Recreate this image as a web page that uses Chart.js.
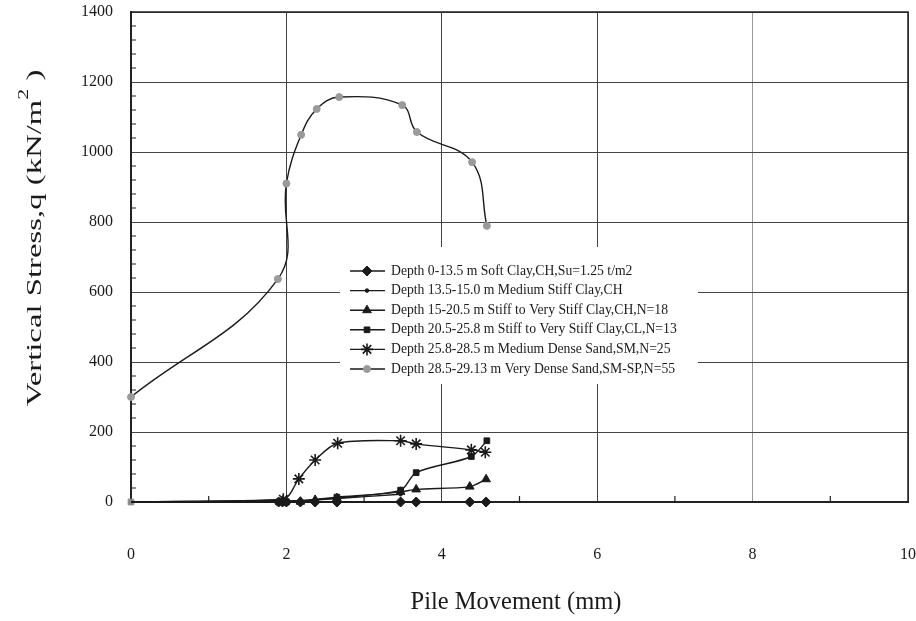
<!DOCTYPE html>
<html lang="en">
<head>
  <meta charset="UTF-8" />
  <title>Vertical Stress vs Pile Movement</title>
  <style>
    body {
      margin: 0;
      background: #ffffff;
    }
    canvas {
      display: block;
    }
  </style>
</head>
<body>
  <canvas id="chart" width="916" height="621"></canvas>

  <script src="https://cdn.jsdelivr.net/npm/chart.js"></script>
  <script>
    // layer data: pile movement (mm) vs vertical stress (kN/m2)
    const labels = [
      'Depth 0-13.5 m Soft Clay,CH,Su=1.25 t/m2',
      'Depth 13.5-15.0 m Medium Stiff Clay,CH',
      'Depth 15-20.5 m Stiff to Very Stiff Clay,CH,N=18',
      'Depth 20.5-25.8 m Stiff to Very Stiff Clay,CL,N=13',
      'Depth 25.8-28.5 m Medium Dense Sand,SM,N=25',
      'Depth 28.5-29.13 m Very Dense Sand,SM-SP,N=55'
    ];

    const softClayX = [0, 1.9, 1.95, 2.0, 2.18, 2.37, 2.65, 3.47, 3.67, 4.36, 4.57];
    const softClayY = [0, 0, 0, 0, 0, 0, 0, 0, 0, 0, 0];

    const medClayX = [0, 1.9, 2.0, 2.18, 2.37, 2.65, 3.47];
    const medClayY = [0, 2, 3, 4, 6, 10, 22];

    const stiffChX = [0, 1.95, 2.18, 2.37, 2.65, 3.47, 3.67, 4.36, 4.57];
    const stiffChY = [0, 4, 1, 6, 11, 29, 36, 44, 65];

    const stiffClX = [0, 1.9, 1.95, 2.0, 2.65, 3.47, 3.67, 4.38, 4.58];
    const stiffClY = [0, 0, 0, 0, 14, 34, 84, 130, 175];

    const medSandX = [0, 1.96, 2.16, 2.37, 2.66, 3.47, 3.67, 4.38, 4.56];
    const medSandY = [0, 8, 66, 120, 168, 175, 166, 149, 142];

    const denseSandX = [0, 1.89, 2.0, 2.19, 2.39, 2.68, 3.49, 3.68, 4.39, 4.58];
    const denseSandY = [300, 637, 910, 1049, 1123, 1157, 1134, 1057, 971, 789];

    const xTicks = [0, 2, 4, 6, 8, 10];
    const yTicks = [0, 200, 400, 600, 800, 1000, 1200, 1400];

    const serif = '"Liberation Serif", "DejaVu Serif", serif';
    const ink = '#1a1a1a';

    function pts(xs, ys) {
      return xs.map((x, i) => ({ x: x, y: ys[i] }));
    }

    // the shared origin point is only marked once, as a grey square
    function series(label, xs, ys, style, radius, fill, tension) {
      return {
        label: label,
        data: pts(xs, ys),
        borderColor: ink,
        borderWidth: 1.4,
        pointStyle: style,
        pointRadius: c => (c.dataIndex === 0 && ys[0] === 0 && style !== 'rect') ? 0 : radius,
        pointBackgroundColor: c => (c.dataIndex === 0 && ys[0] === 0) ? '#8a8a8a' : fill,
        pointBorderColor: c => (c.dataIndex === 0 && ys[0] === 0) ? '#8a8a8a' : fill,
        pointBorderWidth: style === 'star' ? 1.6 : 1,
        legendRadius: radius,
        legendFill: fill,
        tension: tension,
        clip: false
      };
    }

    const datasets = [
      series(labels[0], softClayX, softClayY, 'rectRot', 5, ink, 0.3),
      series(labels[1], medClayX, medClayY, 'circle', 1.8, ink, 0.3),
      series(labels[2], stiffChX, stiffChY, 'triangle', 5, ink, 0.3),
      series(labels[3], stiffClX, stiffClY, 'rect', 4, ink, 0.3),
      series(labels[4], medSandX, medSandY, 'star', 6, ink, 0.3),
      series(labels[5], denseSandX, denseSandY, 'circle', 3.5, '#9a9a9a', 0.4)
    ];

    // legend box sits inside the plot area and hides the grid behind it
    const legendBox = { x: 340, y: 247, w: 358, h: 137 };

    const decorations = {
      id: 'decorations',
      beforeDatasetsDraw(chart) {
        const ctx = chart.ctx;
        const a = chart.chartArea;
        const xs = chart.scales.x;
        const ys = chart.scales.y;
        ctx.save();
        // top and right frame
        ctx.strokeStyle = '#222';
        ctx.lineWidth = 1.5;
        ctx.beginPath();
        ctx.moveTo(a.left, a.top);
        ctx.lineTo(a.right, a.top);
        ctx.lineTo(a.right, a.bottom);
        ctx.stroke();
        // minor ticks pointing into the plot
        ctx.lineWidth = 1.2;
        ctx.beginPath();
        for (let v = 40; v < 1400; v += 40) {
          if (v % 200 === 0) continue;
          const py = ys.getPixelForValue(v);
          ctx.moveTo(a.left, py);
          ctx.lineTo(a.left + 5, py);
        }
        for (let v = 1; v < 10; v += 2) {
          const px = xs.getPixelForValue(v);
          ctx.moveTo(px, a.bottom);
          ctx.lineTo(px, a.bottom - 6);
        }
        ctx.stroke();
        ctx.fillStyle = '#ffffff';
        ctx.fillRect(legendBox.x, legendBox.y, legendBox.w, legendBox.h);
        ctx.restore();
      },
      afterDatasetsDraw(chart) {
        const ctx = chart.ctx;
        ctx.save();
        ctx.font = '13.7px ' + serif;
        ctx.textBaseline = 'middle';
        chart.data.datasets.forEach((ds, i) => {
          const y = 271 + i * 19.6;
          ctx.strokeStyle = ds.borderColor;
          ctx.lineWidth = 1.4;
          ctx.beginPath();
          ctx.moveTo(350, y);
          ctx.lineTo(385, y);
          ctx.stroke();
          ctx.fillStyle = ds.legendFill;
          ctx.strokeStyle = ds.legendFill;
          ctx.lineWidth = ds.pointBorderWidth;
          Chart.helpers.drawPoint(ctx, {
            pointStyle: ds.pointStyle,
            radius: ds.legendRadius,
            rotation: 0,
            borderWidth: ds.pointBorderWidth
          }, 367, y);
          ctx.fillStyle = ink;
          ctx.fillText(ds.label, 391, y);
        });
        ctx.restore();
      },
      afterDraw(chart) {
        const ctx = chart.ctx;
        ctx.save();
        ctx.fillStyle = ink;
        ctx.textBaseline = 'middle';
        // x axis title
        ctx.font = '24.5px ' + serif;
        ctx.textAlign = 'center';
        ctx.fillText('Pile Movement (mm)', 516, 603);
        // y axis title, drawn tall, with a raised 2
        ctx.translate(35, 238);
        ctx.rotate(-Math.PI / 2);
        ctx.scale(1.56, 1);
        const main = 'Vertical Stress,q (kN/m';
        const close = ' )';
        ctx.font = '21px ' + serif;
        const wMain = ctx.measureText(main).width;
        const wClose = ctx.measureText(close).width;
        ctx.font = '14px ' + serif;
        const wSup = ctx.measureText('2').width;
        let x = -(wMain + wSup + wClose) / 2;
        ctx.textAlign = 'left';
        ctx.font = '21px ' + serif;
        ctx.fillText(main, x, 0);
        x += wMain;
        ctx.font = '14px ' + serif;
        ctx.fillText('2', x, -11);
        x += wSup;
        ctx.font = '21px ' + serif;
        ctx.fillText(close, x, 0);
        ctx.restore();
      }
    };

    new Chart(document.getElementById('chart'), {
      type: 'line',
      data: { datasets: datasets },
      options: {
        responsive: false,
        animation: false,
        layout: { padding: { top: 12, right: 8, left: 0, bottom: 0 } },
        plugins: {
          legend: { display: false },
          tooltip: { enabled: false }
        },
        scales: {
          x: {
            type: 'linear',
            min: 0,
            max: 10,
            afterFit(scale) {
              scale.height = 119;
              scale.paddingLeft = 0;
              scale.paddingRight = 0;
            },
            afterBuildTicks(scale) { scale.ticks = xTicks.map(v => ({ value: v })); },
            grid: {
              color: c => (c.tick && c.tick.value === 8) ? '#9a9a9a' : '#444',
              lineWidth: 1,
              drawTicks: false
            },
            border: { color: '#222', width: 2 },
            ticks: {
              padding: 43,
              color: ink,
              font: { family: serif, size: 16 },
              callback: v => String(v)
            }
          },
          y: {
            type: 'linear',
            min: 0,
            max: 1400,
            afterFit(scale) {
              scale.width = 131;
              scale.paddingTop = 0;
              scale.paddingBottom = 0;
            },
            afterBuildTicks(scale) { scale.ticks = yTicks.map(v => ({ value: v })); },
            grid: { color: '#444', lineWidth: 1, drawTicks: false },
            border: { color: '#222', width: 2 },
            ticks: {
              padding: 18,
              color: ink,
              font: { family: serif, size: 16 },
              callback: v => String(v)
            }
          }
        }
      },
      plugins: [decorations]
    });
  </script>
</body>
</html>
